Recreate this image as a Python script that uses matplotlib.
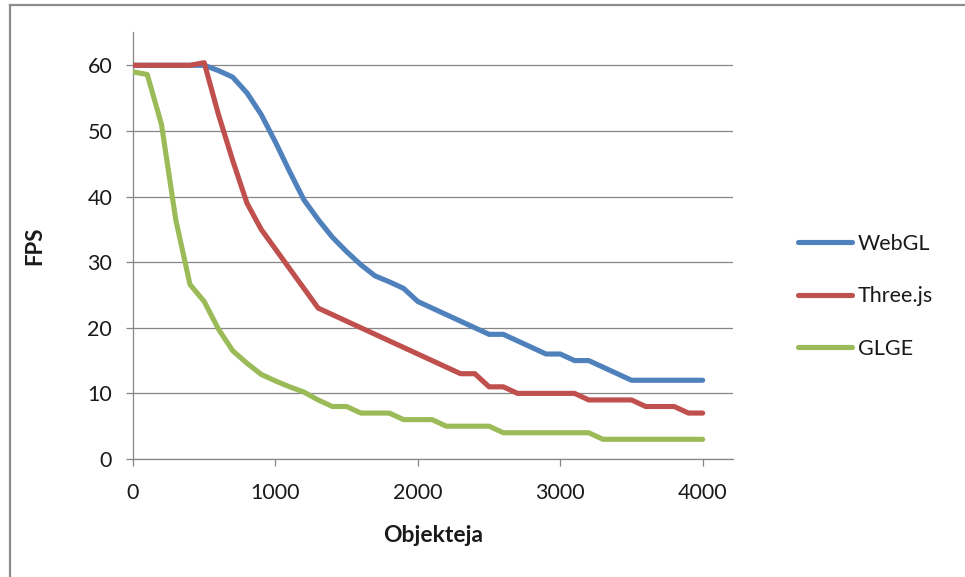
import matplotlib
matplotlib.use("Agg")
import matplotlib.pyplot as plt
from matplotlib.lines import Line2D

# objects count on x, fps on y
objects = list(range(0, 4001, 100))

webgl = [60, 60, 60, 60, 60, 60,
         59.2, 58.2, 55.8, 52.5, 48.3, 43.8, 39.5, 36.5, 33.8, 31.6,
         29.6, 27.9, 27, 26, 24, 23, 22, 21, 20, 19,
         19, 18, 17, 16, 16, 15, 15, 14, 13, 12,
         12, 12, 12, 12, 12]

threejs = [60, 60, 60, 60, 60,
           60.4, 52.5, 45.5, 39, 35, 32, 29, 26, 23, 22,
           21, 20, 19, 18, 17, 16, 15, 14, 13, 13,
           11, 11, 10, 10, 10, 10, 10, 9, 9, 9,
           9, 8, 8, 8, 7, 7]

glge = [59, 58.6, 51, 36.5, 26.6, 24, 19.8, 16.5, 14.6, 12.9,
        11.9, 11, 10.2, 9, 8, 8, 7, 7, 7, 6,
        6, 6, 5, 5, 5, 5, 4, 4, 4, 4,
        4, 4, 4, 3, 3, 3, 3, 3, 3, 3, 3]

series = [("WebGL", webgl, "#4F81BD"),
          ("Three.js", threejs, "#C0504D"),
          ("GLGE", glge, "#9BBB59")]

plt.rcParams['font.family'] = ['Lato', 'DejaVu Sans']

W, H = 965, 577
fig = plt.figure(figsize=(W / 100, H / 100), dpi=100)
fig.patch.set_facecolor("white")

ax = fig.add_axes([133 / W, 1 - 459 / H, (732.6 - 133) / W, (459 - 32.5) / H])

for name, vals, col in series:
    ax.plot(objects, vals, color=col, lw=3.7, label=name,
            solid_capstyle="round", solid_joinstyle="round", zorder=3)

gray = "#868686"
txt = "#1a1a1a"
ax.set_xlim(0, 4210)
ax.set_ylim(0, 65)
ax.set_xticks([0, 1000, 2000, 3000, 4000])
ax.set_yticks(range(0, 61, 10))
ax.yaxis.grid(True, color=gray, lw=0.9)
ax.set_axisbelow(True)

for s in ["top", "right"]:
    ax.spines[s].set_visible(False)
for s in ["left", "bottom"]:
    ax.spines[s].set_color(gray)
    ax.spines[s].set_linewidth(0.9)

ax.tick_params(axis="x", direction="out", length=5, width=0.9, color=gray,
               pad=12, labelsize=15.5, labelcolor=txt)
ax.tick_params(axis="y", direction="out", length=5, width=0.9, color=gray,
               pad=10, labelsize=15.5, labelcolor=txt)

ax.set_xlabel("Objekteja", fontsize=16.5, fontweight="bold", color=txt)
ax.set_ylabel("FPS", fontsize=16, fontweight="bold", color=txt)
ax.xaxis.set_label_coords(0.5, -0.155)
ax.yaxis.set_label_coords(-0.146, 0.5)

leg = ax.legend(loc="upper left", bbox_to_anchor=(798 / W, 1 - 234 / H),
                bbox_transform=fig.transFigure, frameon=False, fontsize=15.5,
                handlelength=2.5, handletextpad=0.28, labelspacing=1.5,
                borderpad=0, borderaxespad=0)
for t in leg.get_texts():
    t.set_color(txt)

# outer chart frame (only left and top edges show in the crop)
fig.add_artist(Line2D([10 / W, 10 / W], [0, 1 - 5 / H], transform=fig.transFigure,
                      color="#8c8c8c", lw=1.6))
fig.add_artist(Line2D([10 / W, 1], [1 - 5 / H, 1 - 5 / H], transform=fig.transFigure,
                      color="#8c8c8c", lw=1.6))

fig.savefig("out.png", dpi=100)
